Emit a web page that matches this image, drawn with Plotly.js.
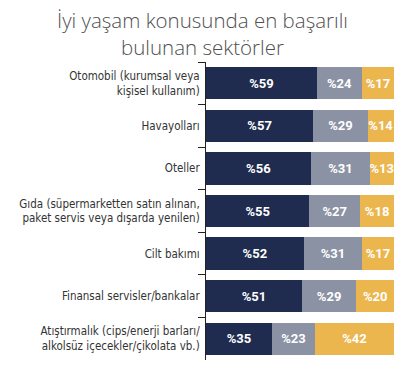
<!DOCTYPE html>
<html>
<head>
<meta charset="utf-8">
<script src="https://cdn.plot.ly/plotly-3.0.1.min.js"></script>
<style>html,body{margin:0;padding:0;background:#fff;}#chart{width:420px;height:375px;}</style>
</head>
<body>
<div id="chart"></div>
<script>
const categories = [
  "Otomobil (kurumsal veya<br>kişisel kullanım)",
  "Havayolları",
  "Oteller",
  "Gıda (süpermarketten satın alınan,<br>paket servis veya dışarda yenilen)",
  "Cilt bakımı",
  "Finansal servisler/bankalar",
  "Atıştırmalık (cips/enerji barları/<br>alkolsüz içecekler/çikolata vb.)"
];
const seriesA = [59, 57, 56, 55, 52, 51, 35];
const seriesB = [24, 29, 31, 27, 31, 29, 23];
const seriesC = [17, 14, 13, 18, 17, 20, 42];
const titleText = "İyi yaşam konusunda en başarılı<br>bulunan sektörler";

const colors = ["#1f2c50", "#8b92a4", "#ecb64f"];
const barFont = {family: "Roboto", size: 13, color: "#ffffff", weight: 700};

function mk(vals, color) {
  return {
    type: "bar", orientation: "h",
    y: categories, x: vals,
    marker: {color: color, line: {width: 0}},
    text: vals.map(v => "%" + v),
    textposition: "inside", insidetextanchor: "middle", textangle: 0,
    constraintext: "none", cliponaxis: false,
    textfont: barFont,
    hoverinfo: "skip"
  };
}

const data = [mk(seriesA, colors[0]), mk(seriesB, colors[1]), mk(seriesC, colors[2])];

const layout = {
  width: 420, height: 375,
  margin: {l: 206, r: 26, t: 62, b: 15},
  paper_bgcolor: "#ffffff", plot_bgcolor: "#ffffff",
  barmode: "stack", bargap: 0.24, showlegend: false,
  annotations: [{
    text: titleText, showarrow: false,
    xref: "paper", x: -0.02, xanchor: "center",
    yref: "paper", y: 1.195, yanchor: "top",
    align: "center",
    font: {family: "Open Sans", size: 20.5, color: "#505050", weight: 300}
  }],
  xaxis: {range: [0, 100], visible: false, fixedrange: true},
  yaxis: {
    type: "category", autorange: "reversed",
    showline: true, linecolor: "#222", linewidth: 1,
    ticks: "outside", tickson: "boundaries", ticklen: 7, tickcolor: "#222", tickwidth: 1,
    showgrid: false, zeroline: false,
    tickfont: {family: "DejaVu Sans Condensed", size: 11.5, color: "#333"},
    ticklabelstandoff: 3,
    fixedrange: true
  }
};

Plotly.newPlot("chart", data, layout, {displayModeBar: false, staticPlot: true});
</script>
</body>
</html>
